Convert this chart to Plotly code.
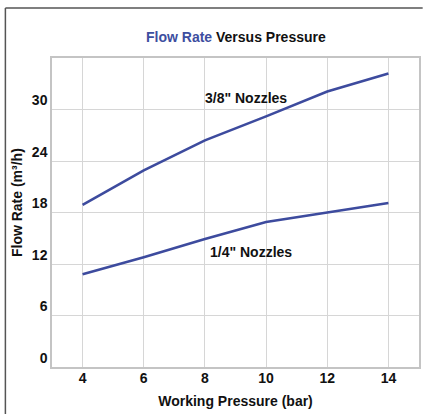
import plotly.graph_objects as go

pressure = [4, 6, 8, 10, 12, 14]
flow_38 = [18.9, 22.9, 26.4, 29.2, 32.1, 34.2]
flow_14 = [10.8, 12.8, 14.9, 16.9, 18.0, 19.1]
x_ticks = [4, 6, 8, 10, 12, 14]
y_ticks = [0, 6, 12, 18, 24, 30]

LINE = "#3d4b9e"
FONT = "Liberation Sans, Arial, sans-serif"
FS = 14

fig = go.Figure()
for ys in (flow_38, flow_14):
    fig.add_trace(go.Scatter(x=pressure, y=ys, mode="lines",
                             line=dict(color=LINE, width=2.6), showlegend=False,
                             hoverinfo="skip"))

fig.add_annotation(x=9.35, y=31.3, text="<b>3/8\" Nozzles</b>", showarrow=False,
                   font=dict(family=FONT, size=FS, color="#111"))
fig.add_annotation(x=9.5, y=13.35, text="<b>1/4\" Nozzles</b>", showarrow=False,
                   font=dict(family=FONT, size=FS, color="#111"))

fig.add_annotation(xref="paper", yref="paper", x=0.5, y=1.0, yshift=21,
                   xanchor="center", yanchor="middle", showarrow=False,
                   text="<b><span style='color:#3d4ea0'>Flow Rate</span> Versus Pressure</b>",
                   font=dict(family=FONT, size=FS, color="#111"))

# y-axis title as rotated annotation
fig.add_annotation(xref="paper", yref="paper", x=-0.095, y=0.531, textangle=-90,
                   xanchor="center", yanchor="middle", showarrow=False,
                   text="<b>Flow Rate (m³/h)</b>",
                   font=dict(family=FONT, size=FS, color="#111"))

# outer frame (top and left borders)
fig.add_shape(type="line", xref="paper", yref="paper", x0=-0.127, x1=1.01, y0=1.162, y1=1.162,
              line=dict(color="#555", width=1.5))
fig.add_shape(type="line", xref="paper", yref="paper", x0=-0.127, x1=-0.127, y0=1.162, y1=-0.16,
              line=dict(color="#555", width=1.5))

fig.update_xaxes(range=[3, 15], tickvals=x_ticks, ticktext=[str(v) for v in x_ticks],
                 dtick=1, tick0=3, showgrid=True, gridcolor="#d6d6d6", gridwidth=1,
                 showline=True, linecolor="#c4c4c4", linewidth=1.5, mirror=True,
                 zeroline=False, ticks="", ticklabelstandoff=-3,
                 tickfont=dict(family=FONT, size=FS, color="#111", weight="bold"),
                 title=dict(text="<b>Working Pressure (bar)</b>", standoff=12,
                            font=dict(family=FONT, size=FS, color="#111")))
fig.update_yaxes(range=[0, 36], tickvals=y_ticks, ticktext=[str(v) for v in y_ticks],
                 showgrid=True, gridcolor="#d6d6d6", gridwidth=1,
                 showline=True, linecolor="#c4c4c4", linewidth=1.5, mirror=True,
                 zeroline=False, ticks="", ticklabelshift=-9, ticklabelstandoff=0,
                 tickfont=dict(family=FONT, size=FS, color="#111", weight="bold"))

fig.update_layout(width=423, height=414, margin=dict(l=52, r=2, t=58, b=47),
                  paper_bgcolor="white", plot_bgcolor="white")

fig.write_html("out.html", config={"displayModeBar": False},
               post_script="document.body.style.margin='0';document.body.style.overflow='hidden';")
